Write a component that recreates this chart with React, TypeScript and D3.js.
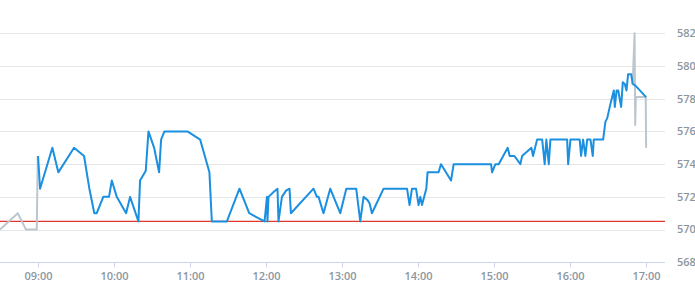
import React from "react";
import * as d3 from "d3";

// minutes after 09:00
const sessionMinutes = [
  0.4, 2, 11.7, 16.4, 28.8, 36.7, 40.9, 44.8, 46.7, 51.9, 56.4, 58.6, 62.5, 69.9, 73, 79.6, 80.9, 85.4, 87.5, 92,
  95.9, 97.5, 100.1, 118.3, 128.3, 135.6, 137.5, 149.4, 159.3, 167, 179.1, 181, 181.4, 182.2, 186.2, 189.3, 190.1,
  192.8, 196.2, 198.8, 199.9, 217.7, 220.4, 221.7, 225.6, 230.9, 238.8, 243.6, 251.4, 254.6, 257.2, 260.4, 262,
  263.8, 273, 291.5, 293.5, 295.4, 298.6, 300.6, 302, 303.3, 306.7, 307.7, 316.4, 318.3, 326.2, 328.3, 357.8,
  358.6, 361.2, 363.8, 370.9, 372.5, 376.2, 380.9, 382.3, 389.6, 390.9, 394.1, 398.1, 400.1, 401.4, 403.3, 404.6,
  417.8, 418.6, 420.4, 427.7, 428.8, 430.4, 432.2, 433.6, 436.2, 438, 438.8, 446.2, 448, 449.4, 452, 454.6, 455.4,
  456.8, 458.1, 460.4, 461.7, 463.3, 464.6, 465.9, 468.3, 469.5, 471.7, 480.1,
];
const sessionValues = [
  574.5, 572.5, 575, 573.5, 575, 574.5, 572.5, 571, 571, 572, 572, 573, 572, 571, 572, 570.5, 573, 573.6, 576, 575,
  573.5, 575.5, 576, 576, 575.5, 573.5, 570.5, 570.5, 572.5, 571, 570.5, 572, 570.5, 572, 572.3, 572.5, 570.5,
  572, 572.4, 572.5, 571, 572.5, 572, 572, 571, 572.5, 571, 572.5, 572.5, 570.5, 572, 571.8, 571.6,
  571, 572.5, 572.5, 571.5, 572.5, 572.5, 571.5, 572, 571.5, 572.5, 573.5, 573.5, 574, 573, 574, 574,
  573.5, 574, 574, 575, 574.5, 574.5, 574, 574.5, 575, 574.5, 575.5, 575.5, 574, 575.5, 574, 575.5,
  575.5, 574, 575.5, 575.5, 574.5, 575.5, 574.5, 575.5, 575.5, 574.5, 575.5, 575.5, 576.6, 576.8, 577.7, 578.5, 577.5,
  578.5, 578.5, 577.5, 579, 578.9, 578.5, 579.5, 579.5, 578.9, 578.8, 578.1,
];

const preMinutes = [-29.6, -15.6, -9.1, -0.6, 0.2];
const preValues = [570, 571, 570, 570, 574.5];

const postMinutes = [469.5, 471.0, 471.5, 472.0, 479.8, 480.1];
const postValues = [578.9, 582, 576.4, 578.1, 578.1, 575];

const referenceValue = 570.5;

const yTicks = [568, 570, 572, 574, 576, 578, 580, 582];
const xTickLabels = ["09:00", "10:00", "11:00", "12:00", "13:00", "14:00", "15:00", "16:00", "17:00"];

const W = 695;
const H = 300;

export default function App() {
  const plotRight = 665;
  const x = d3.scaleLinear().domain([-29.6, 495]).range([0, plotRight]);
  const y = d3.scaleLinear().domain([568, 582]).range([262.3, 33.3]);

  const line = d3
    .line<[number, number]>()
    .x((d) => x(d[0]))
    .y((d) => y(d[1]));

  const zip = (a: number[], b: number[]) => a.map((m, i) => [m, b[i]] as [number, number]);

  const labelFont = { fontFamily: "'Open Sans', sans-serif", fontSize: 11, fontWeight: 600, fill: "#8c96a0" };

  return (
    <svg width={W} height={H} style={{ position: "absolute", left: 0, top: 0, background: "#fff" }}>
      {yTicks.map((t) => (
        <g key={t}>
          {t !== 568 && (
            <line x1={0} x2={plotRight} y1={Math.round(y(t)) + 0.5} y2={Math.round(y(t)) + 0.5} stroke="#e6e6e6" strokeWidth={1} />
          )}
          <text x={677} y={y(t)} dy="0.35em" {...labelFont}>
            {t}
          </text>
        </g>
      ))}
      <line x1={0} x2={plotRight} y1={Math.round(y(568)) + 0.5} y2={Math.round(y(568)) + 0.5} stroke="#ccd6eb" strokeWidth={1} />
      {xTickLabels.map((lab, i) => {
        const xp = Math.round(x(i * 60)) + 0.5;
        return (
          <g key={lab}>
            <line x1={xp} x2={xp} y1={y(568)} y2={y(568) + 5} stroke="#ccd6eb" strokeWidth={1} />
            <text x={xp} y={276} dy="0.35em" textAnchor="middle" {...labelFont}>
              {lab}
            </text>
          </g>
        );
      })}
      <line
        x1={0}
        x2={plotRight}
        y1={y(referenceValue)}
        y2={y(referenceValue)}
        stroke="#e0382c"
        strokeWidth={1.3}
      />
      <path d={line(zip(preMinutes, preValues)) || ""} fill="none" stroke="#bcc6ce" strokeWidth={2} strokeLinejoin="round" />
      <path d={line(zip(postMinutes, postValues)) || ""} fill="none" stroke="#bcc6ce" strokeWidth={2} strokeLinejoin="round" />
      <path d={line(zip(sessionMinutes, sessionValues)) || ""} fill="none" stroke="#1b8fe0" strokeWidth={2} strokeLinejoin="round" />
    </svg>
  );
}
